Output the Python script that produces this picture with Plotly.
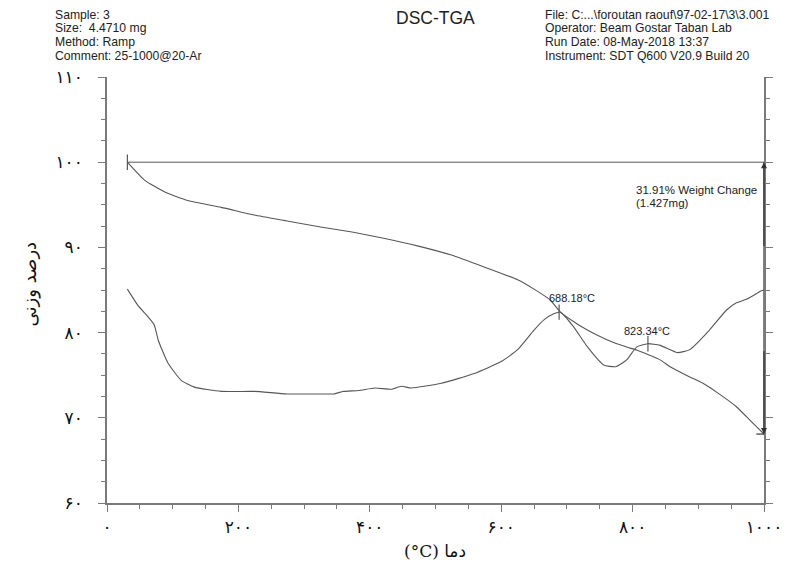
import plotly.graph_objects as go

# ---- data ----
tga_T = [31, 57, 88, 123, 174, 224, 274, 325, 373, 423, 474, 524, 574, 625, 650,
         675, 690, 710, 731, 760, 791, 806, 842, 857, 887, 907, 930, 958, 980, 1000]
tga_W = [100.0, 97.9, 96.5, 95.5, 94.7, 93.8, 93.1, 92.4, 91.8, 91.05, 90.15, 89.1,
         87.7, 86.2, 85.1, 83.8, 82.4, 81.3, 80.3, 79.2, 78.3, 77.95, 76.8, 76.0,
         74.8, 74.05, 72.9, 71.3, 69.6, 68.09]

dsc_T = [31, 47, 62, 72, 78, 93, 113, 133, 174, 224, 274, 325, 345, 360, 383, 408,
         433, 448, 463, 509, 559, 600, 625, 650, 665, 680, 690, 710, 731, 756, 774,
         791, 806, 823, 842, 868, 887, 917, 943, 958, 973, 996, 1000]
dsc_H = [85.1, 83.2, 81.9, 80.9, 79.1, 76.4, 74.4, 73.6, 73.1, 73.1, 72.8, 72.8,
         72.8, 73.1, 73.2, 73.5, 73.35, 73.7, 73.5, 74.05, 75.2, 76.6, 78.0, 80.3,
         81.5, 82.2, 82.4, 80.7, 78.35, 76.2, 76.0, 76.8, 78.3, 78.7, 78.5, 77.65,
         78.0, 80.3, 82.65, 83.5, 83.9, 84.9, 85.0]

peak_T = [688.18, 823.34]
peak_H = [82.4, 78.7]
peak_labels = ["688.18°C", "823.34°C"]

start_T, start_W = 31, 100.0
end_T, end_W = 1000, 68.09
weight_change_lines = ["31.91% Weight Change", "(1.427mg)"]

x_tickvals = [0, 200, 400, 600, 800, 1000]
x_ticktext = ["۰", "۲۰۰", "۴۰۰", "۶۰۰", "۸۰۰", "۱۰۰۰"]
y_tickvals = [60, 70, 80, 90, 100, 110]
y_ticktext = ["۶۰", "۷۰", "۸۰", "۹۰", "۱۰۰", "۱۱۰"]

x_title = "(°C) دما"
y_title = "درصد وزنی"
title = "DSC-TGA"
left_info = ["Sample: 3", "Size:  4.4710 mg", "Method: Ramp", "Comment: 25-1000@20-Ar"]
right_info = ["File: C:...\\foroutan raouf\\97-02-17\\3\\3.001", "Operator: Beam Gostar Taban Lab",
              "Run Date: 08-May-2018 13:37", "Instrument: SDT Q600 V20.9 Build 20"]

# ---- layout geometry (pixels) ----
W, H = 794, 568
L, R, T, B = 107, 26, 77, 65
pw, ph = W - L - R, H - T - B


def px(xp):
    return (xp - L) / pw


def py(yp):
    return (H - B - yp) / ph


line_col = "#575757"
axis_col = "#7a7a7a"
txt_font = "Liberation Sans, Arial"

fig = go.Figure()
fig.add_trace(go.Scatter(x=tga_T, y=tga_W, mode="lines",
                         line=dict(color=line_col, width=1.1, shape="spline", smoothing=0.5),
                         showlegend=False, hoverinfo="skip"))
fig.add_trace(go.Scatter(x=dsc_T, y=dsc_H, mode="lines",
                         line=dict(color=line_col, width=1.1, shape="spline", smoothing=0.5),
                         showlegend=False, hoverinfo="skip"))
fig.add_trace(go.Scatter(x=[start_T, end_T], y=[start_W, start_W], mode="lines",
                         line=dict(color=line_col, width=1), showlegend=False, hoverinfo="skip"))
fig.add_trace(go.Scatter(x=[end_T, end_T], y=[start_W, end_W], mode="lines",
                         line=dict(color="#333333", width=1.2), showlegend=False, hoverinfo="skip"))
fig.add_trace(go.Scatter(x=[start_T], y=[start_W], mode="markers",
                         marker=dict(symbol="line-ns", size=11, line=dict(color=line_col, width=1.2)),
                         showlegend=False, hoverinfo="skip"))
fig.add_trace(go.Scatter(x=[end_T], y=[end_W], mode="markers",
                         marker=dict(symbol="line-ew", size=11, line=dict(color="#333333", width=1.2)),
                         showlegend=False, hoverinfo="skip"))
fig.add_trace(go.Scatter(x=peak_T, y=peak_H, mode="markers",
                         marker=dict(symbol="line-ns", size=11, line=dict(color=line_col, width=1.2)),
                         showlegend=False, hoverinfo="skip"))

annotations = []
annotations.append(dict(x=end_T, y=start_W, ax=end_T, ay=90, xref="x", yref="y", axref="x", ayref="y",
                        showarrow=True, arrowhead=2, arrowsize=1, arrowwidth=1.2, arrowcolor="#333333", text=""))
annotations.append(dict(x=end_T, y=end_W, ax=end_T, ay=78, xref="x", yref="y", axref="x", ayref="y",
                        showarrow=True, arrowhead=2, arrowsize=1, arrowwidth=1.2, arrowcolor="#333333", text=""))
for t, h, lab, dx, dy in zip(peak_T, peak_H, peak_labels, [13, -1], [14, 13]):
    annotations.append(dict(x=t, y=h, text=lab, showarrow=False, xref="x", yref="y",
                            xshift=dx, yshift=dy,
                            font=dict(family=txt_font, size=11, color="#222")))
for i, s in enumerate(weight_change_lines):
    annotations.append(dict(x=px(637), y=py(190 + 13 * i), xref="paper", yref="paper",
                            xanchor="left", yanchor="middle", text=s, showarrow=False,
                            font=dict(family=txt_font, size=11.5, color="#222")))
for i, s in enumerate(left_info):
    annotations.append(dict(x=px(53), y=py(15 + 13.5 * i), xref="paper", yref="paper",
                            xanchor="left", yanchor="middle", text=s, showarrow=False,
                            font=dict(family=txt_font, size=12.2, color="#222")))
for i, s in enumerate(right_info):
    annotations.append(dict(x=px(546), y=py(15 + 13.5 * i), xref="paper", yref="paper",
                            xanchor="left", yanchor="middle", text=s, showarrow=False,
                            font=dict(family=txt_font, size=12.2, color="#222")))
annotations.append(dict(x=px(437), y=py(18), xref="paper", yref="paper", xanchor="center", yanchor="middle",
                        text=title, showarrow=False,
                        font=dict(family=txt_font, size=17.5, color="#222")))
annotations.append(dict(x=px(437), y=py(551), xref="paper", yref="paper", xanchor="center", yanchor="middle",
                        text=x_title, showarrow=False,
                        font=dict(family="DejaVu Serif, DejaVu Sans", size=17, color="#111")))
annotations.append(dict(x=px(30), y=py(284), xref="paper", yref="paper", xanchor="center", yanchor="middle",
                        text=y_title, showarrow=False, textangle=-90,
                        font=dict(family="DejaVu Sans", size=18, color="#111")))

fig.update_layout(
    width=W, height=H,
    margin=dict(l=L, r=R, t=T, b=B),
    paper_bgcolor="white", plot_bgcolor="white",
    showlegend=False,
    annotations=annotations,
    xaxis=dict(range=[0, 1000], showgrid=False, zeroline=False,
               showline=True, linecolor=axis_col, linewidth=1.5,
               ticks="outside", ticklen=7, tickcolor=axis_col, tickwidth=1,
               tickvals=x_tickvals, ticktext=x_ticktext, ticklabelstandoff=1,
               tickfont=dict(family="DejaVu Sans", size=17, color="#111"),
               minor=dict(dtick=50, tick0=0, ticks="outside", ticklen=4, tickcolor=axis_col, showgrid=False)),
    yaxis=dict(range=[60, 110], showgrid=False, zeroline=False,
               showline=True, linecolor=axis_col, linewidth=1.5, mirror="ticks",
               ticks="outside", ticklen=7, tickcolor=axis_col, tickwidth=1,
               tickvals=y_tickvals, ticktext=y_ticktext, ticklabelstandoff=12,
               tickfont=dict(family="DejaVu Sans", size=17, color="#111"),
               minor=dict(dtick=2.5, tick0=60, ticks="outside", ticklen=4, tickcolor=axis_col, showgrid=False)),
)

fig.write_html("out.html")
